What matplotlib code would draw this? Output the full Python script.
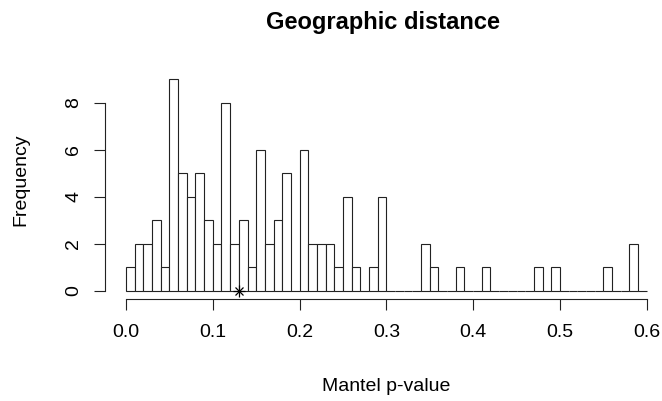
import numpy as np
import matplotlib.pyplot as plt

# histogram counts, bins of width 0.01 from 0.00 to 0.60
bin_edges = np.round(np.arange(0, 0.601, 0.01), 2)
counts = [1, 2, 2, 3, 1, 9, 5, 4, 5, 3,
          2, 8, 2, 3, 1, 6, 2, 3, 5, 0,
          6, 2, 2, 2, 1, 4, 1, 0, 1, 4,
          0, 0, 0, 0, 2, 1, 0, 0, 1, 0,
          0, 1, 0, 0, 0, 0, 0, 1, 0, 1,
          0, 0, 0, 0, 0, 1, 0, 0, 2, 0]
observed = 0.13
x_ticks = [0.0, 0.1, 0.2, 0.3, 0.4, 0.5, 0.6]
y_ticks = [0, 2, 4, 6, 8]

plt.rcParams["font.family"] = ["Liberation Sans", "DejaVu Sans"]

W, H = 662, 401
fig = plt.figure(figsize=(W / 100, H / 100), dpi=100)
# R-style plot region (extends 4% beyond data range)
left, right, bottom, top = 105.2, 667.5, 299.0, 70.8
ax = fig.add_axes([left / W, 1 - bottom / H, (right - left) / W, (bottom - top) / H])

ax.bar(bin_edges[:-1], counts, width=np.diff(bin_edges), align="edge",
       facecolor="white", edgecolor="#222222", linewidth=0.8)
ax.plot([observed], [0], marker="+", color="black", markersize=8, mew=0.9)
ax.plot([observed], [0], marker="x", color="black", markersize=6, mew=0.9)

ax.set_xlim(-0.024, 0.624)
ax.set_ylim(-0.36, 9.36)
for s in ["top", "right"]:
    ax.spines[s].set_visible(False)
ax.spines["left"].set_bounds(0, 8)
ax.spines["bottom"].set_bounds(0, 0.6)
for s in ["left", "bottom"]:
    ax.spines[s].set_linewidth(0.8)
    ax.spines[s].set_color("#222222")

ax.set_xticks(x_ticks)
ax.set_xticklabels([f"{v:.1f}" for v in x_ticks])
ax.set_yticks(y_ticks)
ax.set_yticklabels([str(v) for v in y_ticks], rotation=90, va="center")
ax.tick_params(axis="x", length=8, width=0.8, color="#222222", pad=10, labelsize=14)
ax.tick_params(axis="y", length=8, width=0.8, color="#222222", pad=8.5, labelsize=14)

fig.text(383 / W, 1 - 29 / H, "Geographic distance", ha="center", va="baseline",
         fontsize=17, fontweight="bold")
fig.text(386 / W, 1 - 391 / H, "Mantel p-value", ha="center", va="baseline", fontsize=14)
fig.text(20.5 / W, 1 - 180 / H, "Frequency", ha="center", va="center",
         rotation=90, fontsize=14)

plt.savefig("out.png", dpi=100)
